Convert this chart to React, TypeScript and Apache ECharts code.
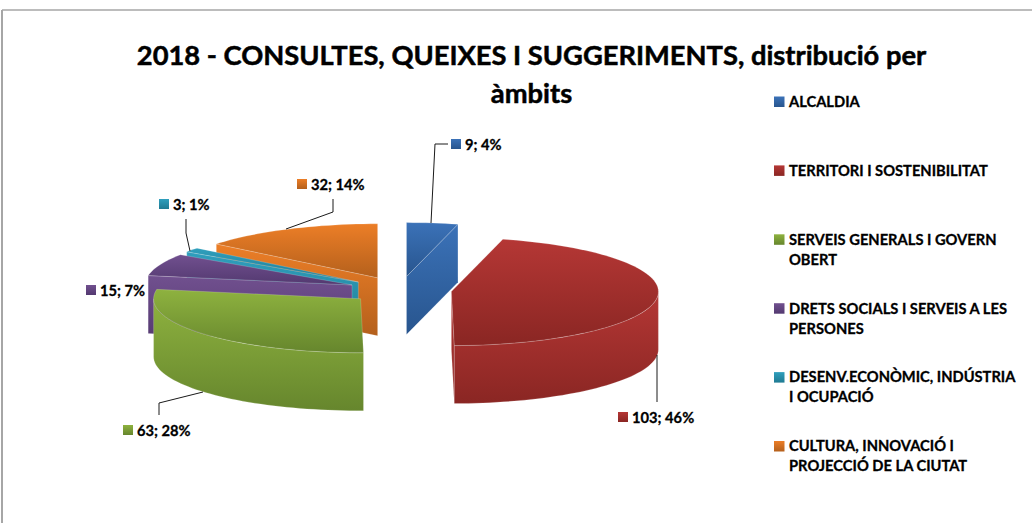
import React, { useEffect, useRef } from "react";
import * as echarts from "echarts";

const titleText = "2018 - CONSULTES, QUEIXES I SUGGERIMENTS, distribució per\nàmbits";
const categories = [
  "ALCALDIA",
  "TERRITORI I SOSTENIBILITAT",
  "SERVEIS GENERALS I GOVERN\nOBERT",
  "DRETS SOCIALS I SERVEIS A LES\nPERSONES",
  "DESENV.ECONÒMIC, INDÚSTRIA\nI OCUPACIÓ",
  "CULTURA, INNOVACIÓ I\nPROJECCIÓ DE LA CIUTAT",
];
const values = [9, 103, 63, 15, 3, 32];
const lightColors = ["#3B72B8", "#B53735", "#8EB23F", "#71508F", "#2F9FBD", "#EC7E27"];
const darkColors = ["#28558E", "#8A2623", "#66862D", "#533970", "#1F7A92", "#B4601C"];

// Layout of the projected pie
const CX = 400;
const CY = 290;
const RX = 207;
const RY = 54;
const DEPTH = 58;
const EXPLODE = 0.25;
const FONT = "Lato, Carlito, Calibri, sans-serif";
const SMALL_FONT = `bold 14.7px ${FONT}`;

// Label anchor (marker left, centre y) and leader line of each slice
const labelAnchors = [
  [451, 144], [618, 417], [123, 430], [86, 290], [159, 204], [297, 184],
];
const leaders = [
  [[431, 223], [435, 144], [448, 144]],
  [[657, 355], [657, 402]],
  [[203, 392], [159, 403], [159, 415]],
  [],
  [[190, 251], [186, 233], [186, 219]],
  [[286, 229], [333, 212], [333, 199]],
];

const total = values.reduce((a, b) => a + b, 0);
const angles = (() => {
  let acc = 0;
  return values.map((v) => {
    const start = (acc / total) * 360;
    acc += v;
    return [start, (acc / total) * 360];
  });
})();

const rad = (d: number) => (d * Math.PI) / 180;
const apexOf = (i: number) => {
  const mid = rad((angles[i][0] + angles[i][1]) / 2);
  return [CX + EXPLODE * RX * Math.sin(mid), CY - EXPLODE * RY * Math.cos(mid)];
};
const rim = (apex: number[], a: number, dy = 0) => [
  apex[0] + RX * Math.sin(rad(a)),
  apex[1] - RY * Math.cos(rad(a)) + dy,
];
const arc = (apex: number[], a: number, b: number, dy = 0) => {
  const pts: number[][] = [];
  const n = Math.max(2, Math.ceil((b - a) / 2));
  for (let k = 0; k <= n; k++) pts.push(rim(apex, a + ((b - a) * k) / n, dy));
  return pts;
};
const shade = (i: number) =>
  new echarts.graphic.LinearGradient(0, 0, 0, 1, [
    { offset: 0, color: lightColors[i] },
    { offset: 1, color: darkColors[i] },
  ]);
const edge = "rgba(255,255,255,0.3)";

// back slices first, front slices last
const drawOrder = values.map((_, i) => i).sort((p, q) => apexOf(p)[1] - apexOf(q)[1]);

const renderSlice = (_params: any, api: any) => {
  const i = api.value(1) as number;
  const [a, b] = angles[i];
  const apex = apexOf(i);
  const lower = [apex[0], apex[1] + DEPTH];
  const children: any[] = [];
  const poly = (points: number[][]) => ({
    type: "polygon",
    shape: { points },
    style: { fill: shade(i), stroke: edge, lineWidth: 0.6 },
  });
  // radial cut faces that turn towards the viewer
  if (Math.sin(rad(a)) < -1e-6) {
    children.push(poly([apex, rim(apex, a), rim(apex, a, DEPTH), lower]));
  }
  if (Math.sin(rad(b)) > 1e-6) {
    children.push(poly([apex, rim(apex, b), rim(apex, b, DEPTH), lower]));
  }
  // outer wall, front half only
  const wa = Math.max(a, 90);
  const wb = Math.min(b, 270);
  if (wb > wa) {
    children.push(poly([...arc(apex, wa, wb), ...arc(apex, wa, wb, DEPTH).reverse()]));
  }
  // top face
  children.push(poly([apex, ...arc(apex, a, b)]));
  // leader line
  if (leaders[i].length) {
    children.push({
      type: "polyline",
      shape: { points: leaders[i] },
      style: { fill: "none", stroke: "#1a1a1a", lineWidth: 1 },
    });
  }
  // data label
  const [lx, ly] = labelAnchors[i];
  children.push({
    type: "rect",
    shape: { x: lx, y: ly - 5, width: 10, height: 10 },
    style: { fill: shade(i) },
  });
  children.push({
    type: "text",
    style: {
      x: lx + 14,
      y: ly,
      text: `${values[i]}; ${Math.round((values[i] / total) * 100)}%`,
      fill: "#000",
      stroke: "#000",
      lineWidth: 0.3,
      font: SMALL_FONT,
      align: "left",
      verticalAlign: "middle",
    },
  });
  return { type: "group", children };
};

const legendGraphics = () =>
  categories.flatMap((name, i) => {
    const y = 101.5 + i * 68.9;
    return [
      {
        type: "rect",
        shape: { x: 774, y: y - 5, width: 10.5, height: 10.5 },
        style: { fill: shade(i) },
      },
      {
        type: "text",
        x: 789,
        y: y - 10.7,
        style: {
          text: name,
          fill: "#000",
          stroke: "#000",
          lineWidth: 0.3,
          font: SMALL_FONT,
          lineHeight: 20,
          align: "left",
          verticalAlign: "top",
        },
      },
    ];
  });

export default function App() {
  const ref = useRef<HTMLDivElement>(null);
  useEffect(() => {
    const chart = echarts.init(ref.current!, null, { renderer: "svg" });
    chart.setOption({
      animation: false,
      backgroundColor: "#ffffff",
      title: {
        text: titleText,
        left: 526.5,
        top: 30,
        textAlign: "center",
        textStyle: {
          fontFamily: FONT,
          fontWeight: "bold",
          fontSize: 27.3,
          lineHeight: 38,
          color: "#000",
          textBorderColor: "#000",
          textBorderWidth: 0.5,
        },
      },
      graphic: [
        { type: "line", shape: { x1: 2, y1: 10, x2: 2, y2: 523 }, style: { stroke: "#a6a6a6", lineWidth: 2 } },
        { type: "line", shape: { x1: 2, y1: 10, x2: 1032, y2: 10 }, style: { stroke: "#a6a6a6", lineWidth: 1.5 } },
        ...legendGraphics(),
      ],
      series: [
        {
          type: "custom",
          coordinateSystem: "none",
          silent: true,
          clip: false,
          renderItem: renderSlice,
          data: drawOrder.map((i) => ({
            name: categories[i].replace("\n", " "),
            value: [values[i], i],
          })),
        },
      ],
    });
    return () => chart.dispose();
  }, []);
  return (
    <div
      ref={ref}
      style={{ position: "fixed", left: 0, top: 0, width: 1032, height: 523 }}
    />
  );
}
